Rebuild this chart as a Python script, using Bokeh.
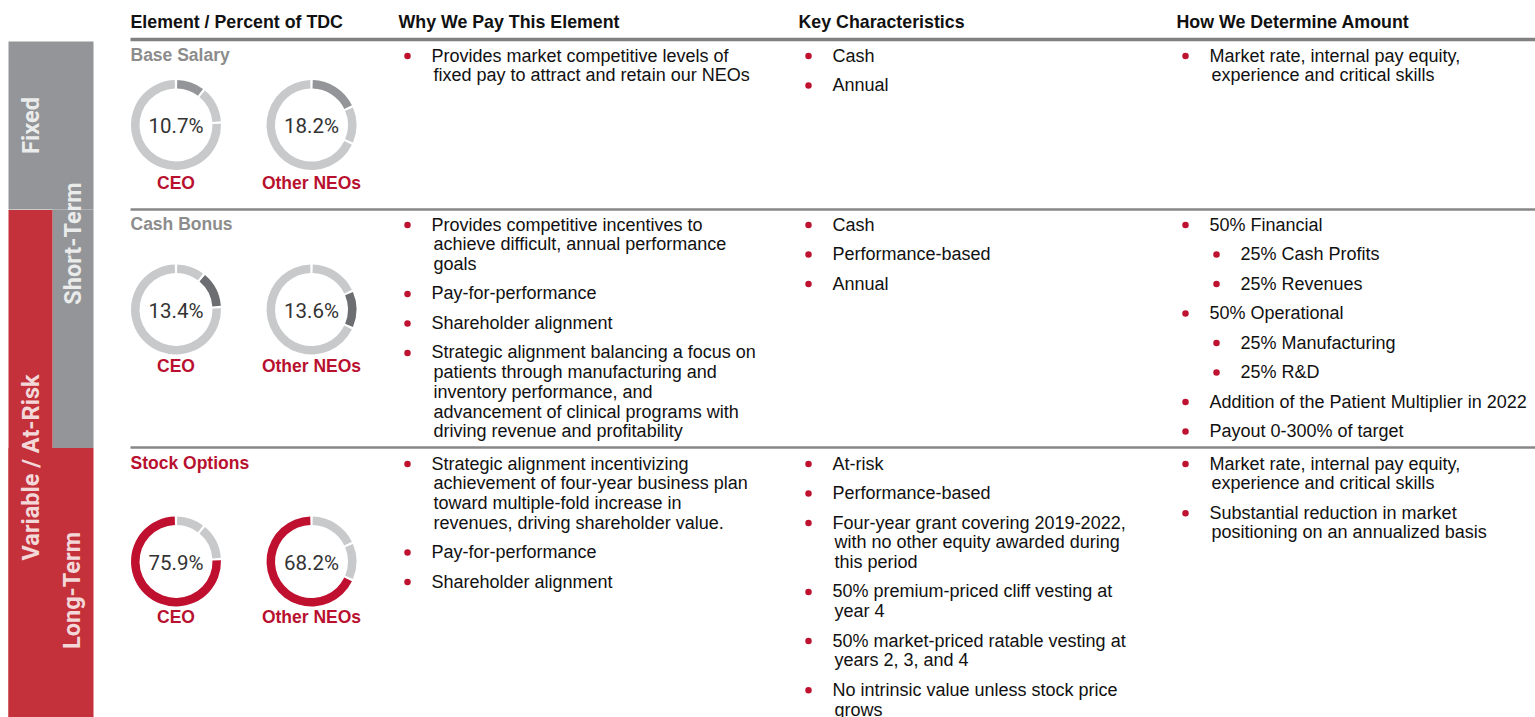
import numpy as np
from bokeh.plotting import figure
from bokeh.models import Range1d
from bokeh.embed import file_html
from bokeh.resources import INLINE
from bokeh.core.properties import value

# ---------------- data ----------------
headers = ["Element / Percent of TDC", "Why We Pay This Element",
           "Key Characteristics", "How We Determine Amount"]
elements = ["Base Salary", "Cash Bonus", "Stock Options"]
ceo_pct = [10.7, 13.4, 75.9]
neo_pct = [18.2, 13.6, 68.2]
groups = ["CEO", "Other NEOs"]
bar_labels = ["Fixed", "Short-Term", "Variable / At-Risk", "Long-Term"]

why = [
    [(0, ["Provides market competitive levels of",
          "fixed pay to attract and retain our NEOs"])],
    [(0, ["Provides competitive incentives to",
          "achieve difficult, annual performance", "goals"]),
     (0, ["Pay-for-performance"]),
     (0, ["Shareholder alignment"]),
     (0, ["Strategic alignment balancing a focus on",
          "patients through manufacturing and",
          "inventory performance, and",
          "advancement of clinical programs with",
          "driving revenue and profitability"])],
    [(0, ["Strategic alignment incentivizing",
          "achievement of four-year business plan",
          "toward multiple-fold increase in",
          "revenues, driving shareholder value."]),
     (0, ["Pay-for-performance"]),
     (0, ["Shareholder alignment"])],
]
key = [
    [(0, ["Cash"]), (0, ["Annual"])],
    [(0, ["Cash"]), (0, ["Performance-based"]), (0, ["Annual"])],
    [(0, ["At-risk"]), (0, ["Performance-based"]),
     (0, ["Four-year grant covering 2019-2022,",
          "with no other equity awarded during", "this period"]),
     (0, ["50% premium-priced cliff vesting at", "year 4"]),
     (0, ["50% market-priced ratable vesting at", "years 2, 3, and 4"]),
     (0, ["No intrinsic value unless stock price", "grows"])],
]
how = [
    [(0, ["Market rate, internal pay equity,",
          "experience and critical skills"])],
    [(0, ["50% Financial"]), (1, ["25% Cash Profits"]), (1, ["25% Revenues"]),
     (0, ["50% Operational"]), (1, ["25% Manufacturing"]), (1, ["25% R&D"]),
     (0, ["Addition of the Patient Multiplier in 2022"]),
     (0, ["Payout 0-300% of target"])],
    [(0, ["Market rate, internal pay equity,",
          "experience and critical skills"]),
     (0, ["Substantial reduction in market",
          "positioning on an annualized basis"])],
]

# ---------------- styles / layout ----------------
RED = "#be1230"
RED_TXT = "#b8102e"
BAR_RED = "#c4313a"
BAR_GRAY = "#939598"
RING = "#c8c9cb"
HILITE = ["#939598", "#6d6e71", "#c0102f"]
FONT = value("Liberation Sans")
DIN = value("Roboto")
TXT_DY = 7.0   # compensation for how alphabetic text is placed


def Y(py):
    return 717 - py


def YT(py):
    return 717 - (py - TXT_DY)


p = figure(width=1535, height=717, x_range=Range1d(0, 1535), y_range=Range1d(0, 717),
           output_backend="svg", toolbar_location=None, min_border=0,
           x_axis_location=None, y_axis_location=None)
p.grid.visible = False
p.outline_line_color = None
p.background_fill_color = "white"
p.border_fill_color = "white"

# left bars
p.quad(left=[8, 52], right=[93, 93], top=[Y(41), Y(209)], bottom=[Y(209), Y(447.5)],
       fill_color=BAR_GRAY, line_color=None)
p.quad(left=[8, 8], right=[52, 93], top=[Y(209.5), Y(447.5)], bottom=[Y(717), Y(717)],
       fill_color=BAR_RED, line_color=None)
p.text(x=[30, 72, 30, 71], y=[Y(125), Y(243), Y(467), Y(590)], text=bar_labels,
       angle=np.pi / 2, text_align="center", text_baseline="middle",
       text_font=DIN, text_font_size="23.5px", text_font_style="bold",
       text_color="white", text_alpha=0.82)

# headers
p.text(x=[130, 398, 798, 1176], y=[YT(28)] * 4, text=headers,
       text_font=FONT, text_font_size="17.8px", text_font_style="bold",
       text_color="#111111", text_baseline="alphabetic")

# separators
p.segment(x0=[130], y0=[Y(39)], x1=[1535], y1=[Y(39)], line_color="#808080", line_width=3.5)
p.segment(x0=[130, 130], y0=[Y(209), Y(447)], x1=[1535, 1535], y1=[Y(209), Y(447)],
          line_color="#878787", line_width=2.5)

# row titles
title_base = [61, 230, 469]
title_col = ["#8c8c8c", "#8c8c8c", RED_TXT]
p.text(x=[130] * 3, y=[YT(b) for b in title_base], text=elements,
       text_font=FONT, text_font_size="17.5px", text_font_style="bold",
       text_color=title_col, text_baseline="alphabetic")

# donuts
donut_cy = [124.5, 309, 561]
donut_cx = [175.5, 311]
label_base = [189, 372, 623]
gap = 3.2
wx, wy, ws, we, wc = [], [], [], [], []
px, py_, pt = [], [], []
lx, ly, lt = [], [], []
for r in range(3):
    for g, pcts in enumerate([ceo_pct, neo_pct]):
        cum = np.concatenate([[0], np.cumsum(pcts)]) / sum(pcts)
        for k in range(3):
            wx.append(donut_cx[g]); wy.append(Y(donut_cy[r]))
            ws.append(np.deg2rad(90 - 360 * cum[k + 1] + gap / 2))
            we.append(np.deg2rad(90 - 360 * cum[k] - gap / 2))
            wc.append(HILITE[k] if k == r else RING)
        px.append(donut_cx[g]); py_.append(YT(donut_cy[r] + 8)); pt.append(f"{pcts[r]:.1f}%")
        lx.append(donut_cx[g]); ly.append(YT(label_base[r])); lt.append(groups[g])

p.annular_wedge(x=wx, y=wy, inner_radius=36.5, outer_radius=45, start_angle=ws, end_angle=we,
                fill_color=wc, line_color=None)
p.text(x=px, y=py_, text=pt, text_align="center", text_baseline="alphabetic",
       text_font=DIN, text_font_size="20.5px", text_color="#333333")
p.text(x=lx, y=ly, text=lt, text_align="center", text_baseline="alphabetic",
       text_font=FONT, text_font_size="17.5px", text_font_style="bold", text_color=RED_TXT)

# bullet columns
row_base = [62, 231, 470]
dot_x = [407, 808, 1185]
txt_x = [431, 832, 1209]
LINE_H = 19.7
ITEM_GAP = 29.5
tx, ty, tt = [], [], []
dx, dy = [], []
for c, col in enumerate([why, key, how]):
    for r, items in enumerate(col):
        cur = row_base[r]
        for level, lines in items:
            dx.append(dot_x[c] + level * 31)
            dy.append(Y(cur - 6.5))
            for j, line in enumerate(lines):
                tx.append(txt_x[c] + level * 31 + (2 if j > 0 else 0))
                ty.append(YT(cur + j * LINE_H))
                tt.append(line)
            cur += (len(lines) - 1) * LINE_H + ITEM_GAP

p.scatter(x=dx, y=dy, marker="circle", size=6.5, fill_color=RED, line_color=None)
p.text(x=tx, y=ty, text=tt, text_font=FONT, text_font_size="18px",
       text_color="#111111", text_baseline="alphabetic")

open("out.html", "w").write(file_html(p, INLINE))
